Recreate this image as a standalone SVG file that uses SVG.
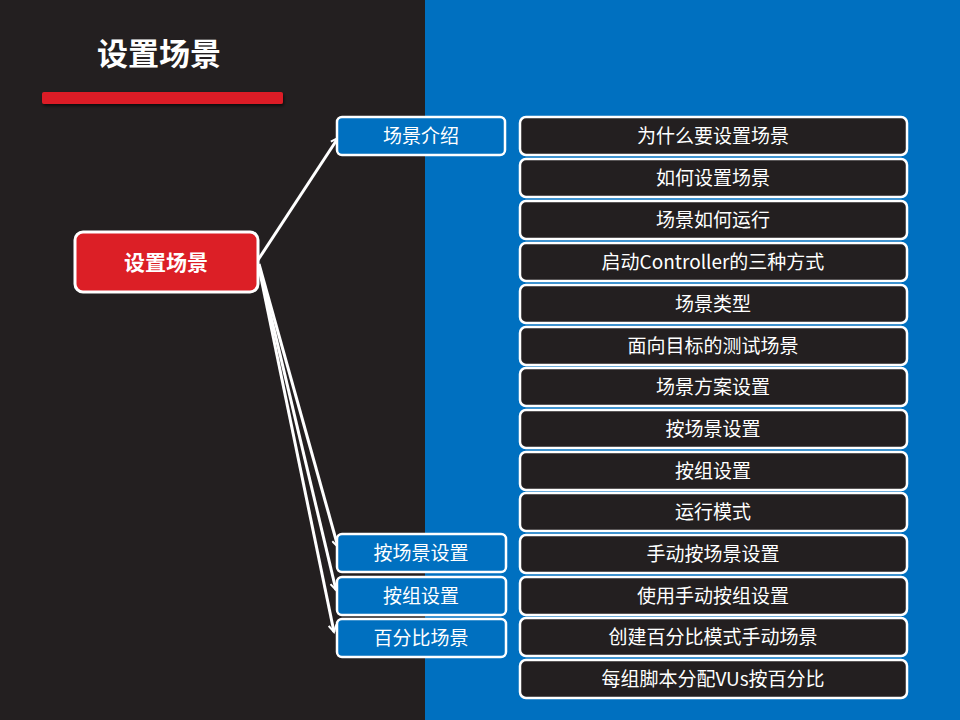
<svg xmlns="http://www.w3.org/2000/svg" width="960" height="720" viewBox="0 0 960 720">
<defs>
<style>
.t{font-family:"Noto Sans CJK SC","Liberation Sans",sans-serif;fill:#fff;text-anchor:middle;dominant-baseline:central}
.blue{fill:#0070c0;stroke:#fff;stroke-width:2.5}
.dark{fill:#231f20;stroke:#fff;stroke-width:2.5}
.c{stroke:#fff;stroke-width:3;fill:none}
</style>
<marker id="a" markerWidth="10" markerHeight="10" refX="8" refY="5" orient="auto" markerUnits="userSpaceOnUse">
<polyline points="1,1 8,5 1,9" fill="none" stroke="#fff" stroke-width="2"/>
</marker>
<filter id="sh" x="-10%" y="-50%" width="120%" height="200%"><feDropShadow dx="1" dy="2" stdDeviation="1.5" flood-color="#000" flood-opacity="0.6"/></filter>
</defs>
<rect x="0" y="0" width="960" height="720" fill="#231f20"/>
<rect x="425" y="0" width="535" height="720" fill="#0070c0"/>
<g id="title">
<text x="159" y="51" class="t" font-size="31" font-weight="bold">设置场景</text>
<rect x="42" y="92" width="241" height="12" rx="2" fill="#dc1f26" filter="url(#sh)"/>
</g>
<g id="connectors">
<line x1="258" y1="260" x2="338" y2="138" class="c" marker-end="url(#a)"/>
<line x1="259" y1="264" x2="338" y2="547" class="c" marker-end="url(#a)"/>
<line x1="259" y1="266" x2="336" y2="590" class="c" marker-end="url(#a)"/>
<line x1="259" y1="268" x2="334" y2="632" class="c" marker-end="url(#a)"/>
</g>
<g id="root">
<rect x="75" y="232" width="183" height="60" rx="8" fill="#dc1f26" stroke="#fff" stroke-width="3"/>
<text x="166" y="261" class="t" font-size="21" font-weight="bold">设置场景</text>
</g>
<g id="n-intro"><rect x="337" y="117" width="168" height="38" rx="5" class="blue"/><text x="421" y="134" class="t" font-size="19">场景介绍</text></g>
<g id="n-scene"><rect x="337" y="534" width="169" height="38" rx="5" class="blue"/><text x="421" y="551" class="t" font-size="19">按场景设置</text></g>
<g id="n-group"><rect x="337" y="577" width="169" height="38" rx="5" class="blue"/><text x="421" y="594" class="t" font-size="19">按组设置</text></g>
<g id="n-pct"><rect x="337" y="619" width="169" height="38" rx="5" class="blue"/><text x="421" y="636" class="t" font-size="19">百分比场景</text></g>
<g id="r1"><rect x="520" y="117" width="387" height="38" rx="6" class="dark"/><text x="713" y="134" class="t" font-size="19">为什么要设置场景</text></g>
<g id="r2"><rect x="520" y="159" width="387" height="38" rx="6" class="dark"/><text x="713" y="176" class="t" font-size="19">如何设置场景</text></g>
<g id="r3"><rect x="520" y="201" width="387" height="38" rx="6" class="dark"/><text x="713" y="218" class="t" font-size="19">场景如何运行</text></g>
<g id="r4"><rect x="520" y="243" width="387" height="38" rx="6" class="dark"/><text x="713" y="260" class="t" font-size="19">启动Controller的三种方式</text></g>
<g id="r5"><rect x="520" y="285" width="387" height="38" rx="6" class="dark"/><text x="713" y="302" class="t" font-size="19">场景类型</text></g>
<g id="r6"><rect x="520" y="327" width="387" height="38" rx="6" class="dark"/><text x="713" y="344" class="t" font-size="19">面向目标的测试场景</text></g>
<g id="r7"><rect x="520" y="368" width="387" height="38" rx="6" class="dark"/><text x="713" y="385" class="t" font-size="19">场景方案设置</text></g>
<g id="r8"><rect x="520" y="410" width="387" height="38" rx="6" class="dark"/><text x="713" y="427" class="t" font-size="19">按场景设置</text></g>
<g id="r9"><rect x="520" y="452" width="387" height="38" rx="6" class="dark"/><text x="713" y="469" class="t" font-size="19">按组设置</text></g>
<g id="r10"><rect x="520" y="493" width="387" height="38" rx="6" class="dark"/><text x="713" y="510" class="t" font-size="19">运行模式</text></g>
<g id="r11"><rect x="520" y="535" width="387" height="38" rx="6" class="dark"/><text x="713" y="552" class="t" font-size="19">手动按场景设置</text></g>
<g id="r12"><rect x="520" y="577" width="387" height="38" rx="6" class="dark"/><text x="713" y="594" class="t" font-size="19">使用手动按组设置</text></g>
<g id="r13"><rect x="520" y="618" width="387" height="38" rx="6" class="dark"/><text x="713" y="635" class="t" font-size="19">创建百分比模式手动场景</text></g>
<g id="r14"><rect x="520" y="660" width="387" height="38" rx="6" class="dark"/><text x="713" y="677" class="t" font-size="19">每组脚本分配VUs按百分比</text></g>
</svg>
